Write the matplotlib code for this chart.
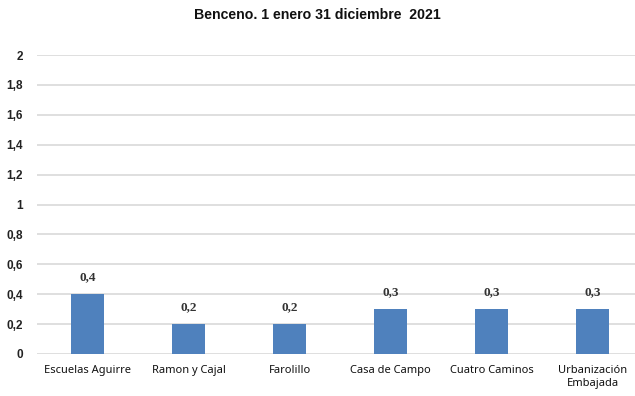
import matplotlib
matplotlib.use("Agg")
import matplotlib.pyplot as plt

categories = ["Escuelas Aguirre", "Ramon y Cajal", "Farolillo",
              "Casa de Campo", "Cuatro Caminos", "Urbanización\nEmbajada"]
values = [0.4, 0.2, 0.2, 0.3, 0.3, 0.3]
value_labels = ["0,4", "0,2", "0,2", "0,3", "0,3", "0,3"]
yticks = [0, 0.2, 0.4, 0.6, 0.8, 1.0, 1.2, 1.4, 1.6, 1.8, 2.0]
ytick_labels = ["0", "0,2", "0,4", "0,6", "0,8", "1", "1,2", "1,4", "1,6", "1,8", "2"]
title = "Benceno. 1 enero 31 diciembre  2021"

W, H = 635, 396
fig = plt.figure(figsize=(W / 100, H / 100), dpi=100)
ax = fig.add_axes([37 / W, 1 - 354 / H, (W - 37) / W, (354 - 55) / H])

x = list(range(len(categories)))
ax.bar(x, values, width=0.32, color="#4F81BD", zorder=3)

ax.set_ylim(0, 2)
ax.set_xlim(-0.5, 5.42)
ax.set_yticks(yticks)
ax.set_yticklabels(ytick_labels, fontsize=8.5, fontweight="bold",
                   family="Liberation Sans", color="#222222")
ax.set_xticks(x)
ax.set_xticklabels(categories, fontsize=8, fontweight="semibold",
                   family="Noto Sans", color="#111111", linespacing=1.2)
ax.tick_params(axis="both", length=0)
ax.tick_params(axis="y", pad=10)
ax.tick_params(axis="x", pad=8)
ax.grid(axis="y", color="#D9D9D9", linewidth=1.2, zorder=0)
for s in ax.spines.values():
    s.set_visible(False)

for xi, v, lab in zip(x, values, value_labels):
    ax.annotate(lab, (xi, v), xytext=(0, 8), textcoords="offset points",
                ha="center", va="bottom", fontsize=9.5, fontweight="bold",
                family="Liberation Serif", color="#333333")

fig.text(0.5, 1 - 15 / H, title, ha="center", va="center", fontsize=10.2,
         fontweight="bold", family="Liberation Sans", color="#111111")

fig.savefig("out.png", dpi=100)
